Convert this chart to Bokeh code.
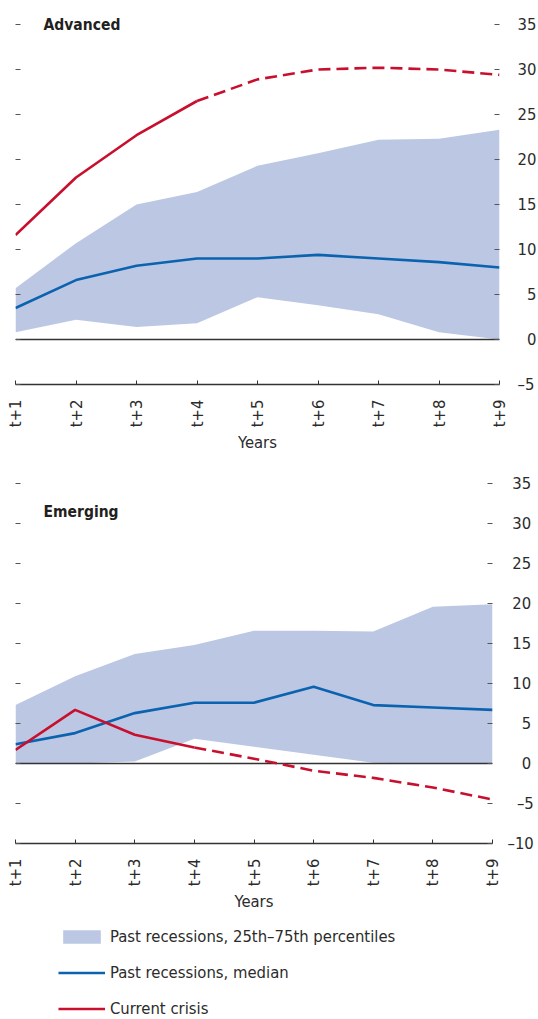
import math
from bokeh.plotting import figure
from bokeh.models import (Range1d, FixedTicker, LinearAxis, Span, Label,
                          Legend, LegendItem)
from bokeh.layouts import column
from bokeh.embed import file_html
from bokeh.resources import INLINE

# ---------------- data ----------------
years = ["t+1", "t+2", "t+3", "t+4", "t+5", "t+6", "t+7", "t+8", "t+9"]
x_pos = [1, 2, 3, 4, 5, 6, 7, 8, 9]

adv_p25 = [0.8, 2.2, 1.4, 1.8, 4.7, 3.8, 2.8, 0.8, 0.0]
adv_p75 = [5.7, 10.7, 15.0, 16.4, 19.3, 20.7, 22.2, 22.3, 23.3]
adv_median = [3.5, 6.6, 8.2, 9.0, 9.0, 9.4, 9.0, 8.6, 8.0]
adv_current = [11.6, 18.0, 22.7, 26.5, 28.9, 30.0, 30.2, 30.0, 29.4]

em_p25 = [0.0, 0.0, 0.25, 3.1, 2.1, 1.1, 0.1, 0.0, 0.0]
em_p75 = [7.3, 10.9, 13.7, 14.8, 16.6, 16.6, 16.5, 19.6, 19.9]
em_median = [2.4, 3.8, 6.3, 7.6, 7.6, 9.6, 7.3, 7.0, 6.7]
em_current = [1.7, 6.7, 3.6, 2.0, 0.6, -0.9, -1.8, -3.0, -4.5]

projection_start = 3  # current crisis is dashed from t+4 onwards

adv_yticks = [-5, 0, 5, 10, 15, 20, 25, 30, 35]
em_yticks = [-10, -5, 0, 5, 10, 15, 20, 25, 30, 35]

legend_labels = ["Past recessions, 25th\u201375th percentiles",
                 "Past recessions, median",
                 "Current crisis"]

# ---------------- style ----------------
FONT = "'DejaVu Sans Condensed', 'Liberation Sans Narrow', sans-serif"
FS = "16.5px"
TXT = "#2b2b2b"
BAND = "#bcc7e4"
BLUE = "#0b63b0"
RED = "#c8102e"
NB = "\u00a0"


def em_width(s):
    w = 0.0
    for ch in s:
        w += 0.5 if ch == "\u2013" else 0.636
    return w


def tick_text(v, target):
    s = str(abs(v))
    if v < 0:
        s = "\u2013" + s
    n = int((target - em_width(s)) / 0.318 + 0.1)
    return NB * max(n, 0) + s


def make_panel(title, title_y, p25, p75, median, current, yticks, ytop,
               px_per_unit, fw, standoff, border_top, border_bottom):
    fh = int(round((ytop - yticks[0]) * px_per_unit))
    p = figure(frame_width=fw, frame_height=fh,
               x_range=Range1d(x_pos[0], x_pos[-1]),
               y_range=Range1d(yticks[0], ytop),
               y_axis_location="right",
               output_backend="svg", toolbar_location=None,
               min_border_left=15, min_border_right=0,
               min_border_top=border_top,
               min_border_bottom=border_bottom,
               outline_line_color=None,
               background_fill_color="white", border_fill_color="white")
    p.xgrid.visible = False
    p.ygrid.visible = False

    band = p.varea(x=x_pos, y1=p25, y2=p75, fill_color=BAND, fill_alpha=1.0)
    band.level = "image"

    zero = Span(location=0, dimension="width", line_color="#333333",
                line_width=1.5, level="underlay")
    p.add_layout(zero)

    p.line(x=x_pos, y=median, line_color=BLUE, line_width=2.6)
    k = projection_start
    p.line(x=x_pos[:k + 1], y=current[:k + 1], line_color=RED,
           line_width=2.6)
    p.line(x=x_pos[k:], y=current[k:], line_color=RED, line_width=2.6,
           line_dash="12 6")

    # right axis
    target = max(em_width(("\u2013" if v < 0 else "") + str(abs(v)))
                 for v in yticks)
    ya = p.yaxis[0]
    ya.ticker = FixedTicker(ticks=yticks)
    ya.major_label_overrides = {v: tick_text(v, target) for v in yticks}
    ya.major_tick_in = 5
    ya.major_tick_out = 0
    ya.major_tick_line_color = "#555555"
    ya.minor_tick_line_color = None
    ya.axis_line_color = None
    ya.major_label_standoff = standoff
    ya.major_label_text_font = FONT
    ya.major_label_text_font_size = FS
    ya.major_label_text_color = TXT

    # left axis: tick marks only
    la = LinearAxis(ticker=FixedTicker(ticks=yticks),
                    major_label_overrides={v: "" for v in yticks},
                    major_label_text_color=None,
                    major_label_standoff=0,
                    major_tick_in=5, major_tick_out=0,
                    major_tick_line_color="#555555",
                    minor_tick_line_color=None, axis_line_color=None)
    p.add_layout(la, "left")

    # x axis
    xa = p.xaxis[0]
    xa.ticker = FixedTicker(ticks=x_pos)
    xa.major_label_overrides = dict(zip(x_pos, years))
    xa.major_label_orientation = math.pi / 2
    xa.major_tick_in = 4
    xa.major_tick_out = 0
    xa.minor_tick_line_color = None
    xa.axis_line_color = "#333333"
    xa.axis_line_width = 1.3
    xa.major_tick_line_color = "#333333"
    xa.major_label_standoff = 15
    xa.major_label_text_font = FONT
    xa.major_label_text_font_size = FS
    xa.major_label_text_color = TXT
    xa.axis_label = "Years"
    xa.axis_label_text_font = FONT
    xa.axis_label_text_font_size = FS
    xa.axis_label_text_font_style = "normal"
    xa.axis_label_text_color = TXT
    xa.axis_label_standoff = 3

    p.add_layout(Label(x=x_pos[0], y=title_y, x_offset=28, text=title,
                       text_baseline="middle", text_font=FONT,
                       text_font_size="15.5px", text_font_style="bold",
                       text_color="#231f20"))
    return p


top = make_panel("Advanced", 35, adv_p25, adv_p75, adv_median,
                 adv_current, adv_yticks, 37, 9, 484, 18, 6, 84)
bot = make_panel("Emerging", 31.4, em_p25, em_p75, em_median,
                 em_current, em_yticks, 36.5, 8, 477, 15, 3, 72)

# legend panel: the key renderers hold the emerging series but sit outside
# the visible x range, so only their legend glyphs are shown
lg = figure(width=538, height=104, x_range=Range1d(-20, -10),
            y_range=Range1d(0, 1), x_axis_type=None, y_axis_type=None,
            output_backend="svg", toolbar_location=None,
            min_border=0, outline_line_color=None,
            background_fill_color="white", border_fill_color="white")
lg.xgrid.visible = False
lg.ygrid.visible = False
r_band = lg.varea(x=x_pos, y1=em_p25, y2=em_p75, fill_color=BAND,
                  fill_alpha=1.0)
r_med = lg.line(x=x_pos, y=em_median, line_color=BLUE, line_width=2.6)
r_cur = lg.line(x=x_pos, y=em_current, line_color=RED, line_width=2.6)

legend = Legend(items=[LegendItem(label=legend_labels[0], renderers=[r_band]),
                       LegendItem(label=legend_labels[1], renderers=[r_med]),
                       LegendItem(label=legend_labels[2], renderers=[r_cur])],
                location=(43, 0), orientation="vertical",
                glyph_width=47, glyph_height=17, label_standoff=5,
                label_height=22, spacing=14, padding=0, margin=0,
                border_line_color=None, background_fill_alpha=0,
                label_text_font=FONT, label_text_font_size=FS,
                label_text_color=TXT)
lg.add_layout(legend, "center")

layout = column(top, bot, lg)
open("out.html", "w").write(file_html(layout, INLINE))
